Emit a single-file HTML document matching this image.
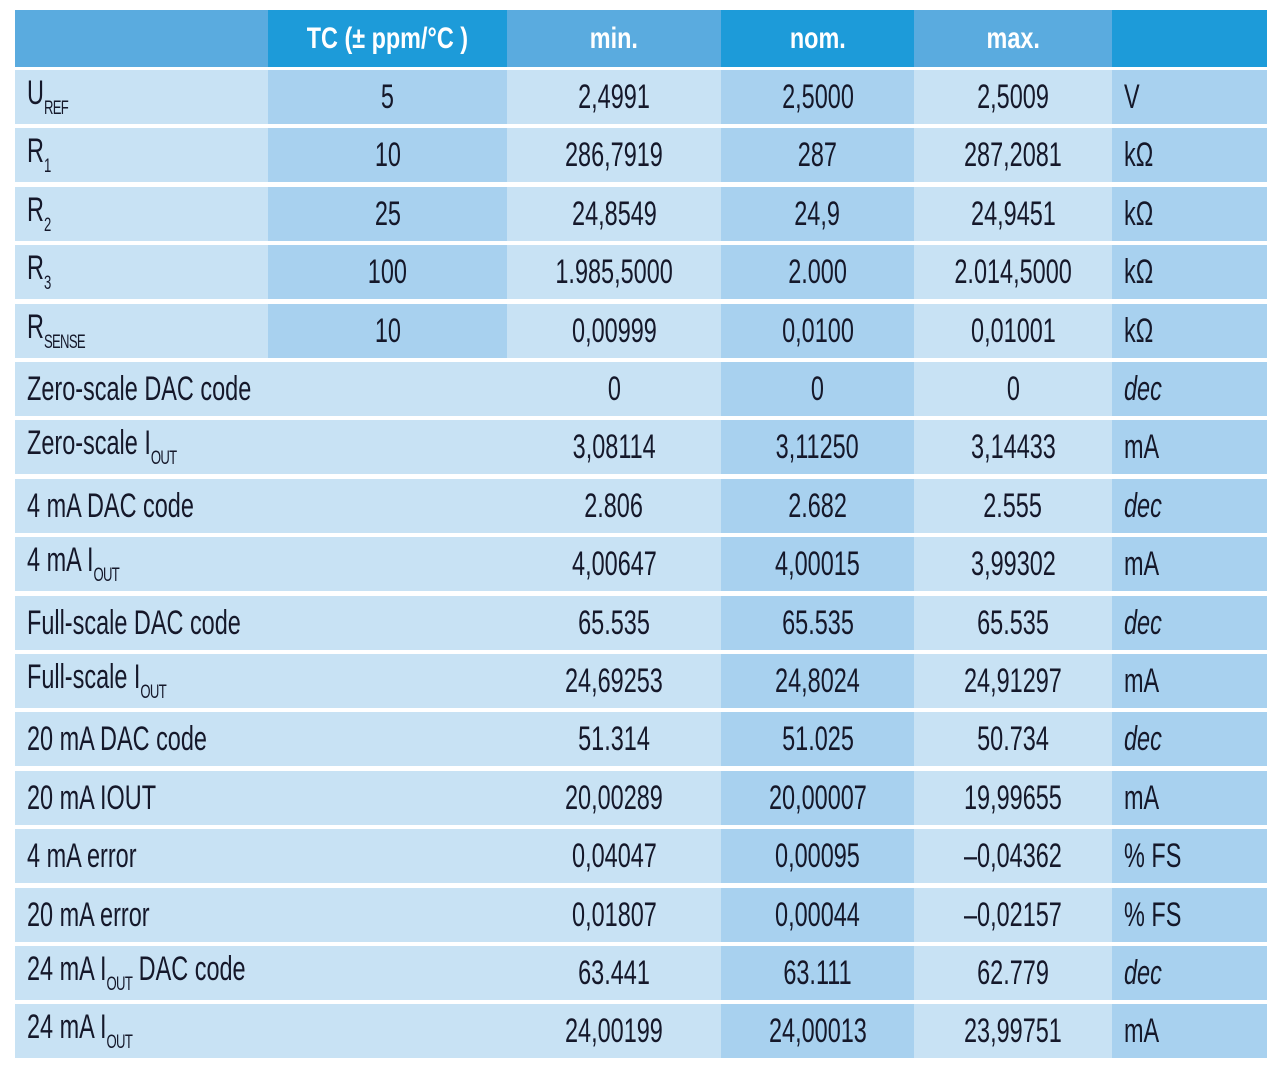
<!DOCTYPE html>
<html><head><meta charset="utf-8">
<style>
body{margin:0;width:1280px;height:1076px;background:#fff;position:relative;overflow:hidden;font-family:"Liberation Sans",sans-serif}
.c{position:absolute;box-sizing:border-box;display:flex;align-items:center;color:#15182a;font-size:34px;white-space:nowrap}
.c span.t{display:inline-block;transform:scaleX(0.69);}
.ctr{justify-content:center}
.ctr span.t{transform-origin:center}
.lft{padding-left:12px}
.lft span.t{transform-origin:left center}
.h{color:#fff;font-weight:bold;font-size:30px}
.h span.t{transform:scaleX(0.78)}
sub{font-size:19px;vertical-align:-10px;letter-spacing:-1px}
i{font-style:italic}
</style></head><body>
<div id="tbl"></div>
<script>
const headers=["","TC (± ppm/°C )","min.","nom.","max.",""];
const labels=["U<sub>REF</sub>","R<sub>1</sub>","R<sub>2</sub>","R<sub>3</sub>","R<sub>SENSE</sub>","Zero-scale DAC code","Zero-scale I<sub>OUT</sub>","4 mA DAC code","4 mA I<sub>OUT</sub>","Full-scale DAC code","Full-scale I<sub>OUT</sub>","20 mA DAC code","20 mA IOUT","4 mA error","20 mA error","24 mA I<sub>OUT</sub> DAC code","24 mA I<sub>OUT</sub>"];
const tcValues=["5","10","25","100","10","","","","","","","","","","","",""];
const minValues=["2,4991","286,7919","24,8549","1.985,5000","0,00999","0","3,08114","2.806","4,00647","65.535","24,69253","51.314","20,00289","0,04047","0,01807","63.441","24,00199"];
const nomValues=["2,5000","287","24,9","2.000","0,0100","0","3,11250","2.682","4,00015","65.535","24,8024","51.025","20,00007","0,00095","0,00044","63.111","24,00013"];
const maxValues=["2,5009","287,2081","24,9451","2.014,5000","0,01001","0","3,14433","2.555","3,99302","65.535","24,91297","50.734","19,99655","–0,04362","–0,02157","62.779","23,99751"];
const units=["V","kΩ","kΩ","kΩ","kΩ","<i>dec</i>","mA","<i>dec</i>","mA","<i>dec</i>","mA","<i>dec</i>","mA","% FS","% FS","<i>dec</i>","mA"];
const colX=[15,268,507,721,914,1112,1267];
const hdrLight="#5aabdf",hdrDark="#1d9bd9",light="#c8e2f4",dark="#a8d1ef";
const root=document.getElementById('tbl');
function cell(x,y,w,h,bg,html,cls,name){
  const d=document.createElement('div');
  d.className='c '+cls;
  d.style.left=x+'px';d.style.top=y+'px';d.style.width=w+'px';d.style.height=h+'px';d.style.background=bg;
  d.innerHTML='<span class="t">'+html+'</span>';
  
  
  root.appendChild(d);
}
const hNames=['header-parameter','header-tc','header-min','header-nom','header-max','header-unit'];
for(let j=0;j<6;j++){
  cell(colX[j],10,colX[j+1]-colX[j],57,(j%2?hdrDark:hdrLight),headers[j],'h ctr',hNames[j]);
}
const cols=[labels,tcValues,minValues,nomValues,maxValues,units];
const cNames=['param-label','tc-value','min-value','nom-value','max-value','unit'];
for(let i=0;i<labels.length;i++){
  const y=Math.round(70+i*58.4),h=54;
  const merged=tcValues[i]==="";
  for(let j=0;j<6;j++){
    let bg=(j%2?dark:light);
    if(merged&&j===1)bg=light;
    const cls=(j===0||j===5)?'lft':'ctr';
    cell(colX[j],y,colX[j+1]-colX[j],h,bg,cols[j][i],cls,cNames[j]+'-'+(i+1));
  }
}
</script>
</body></html>
